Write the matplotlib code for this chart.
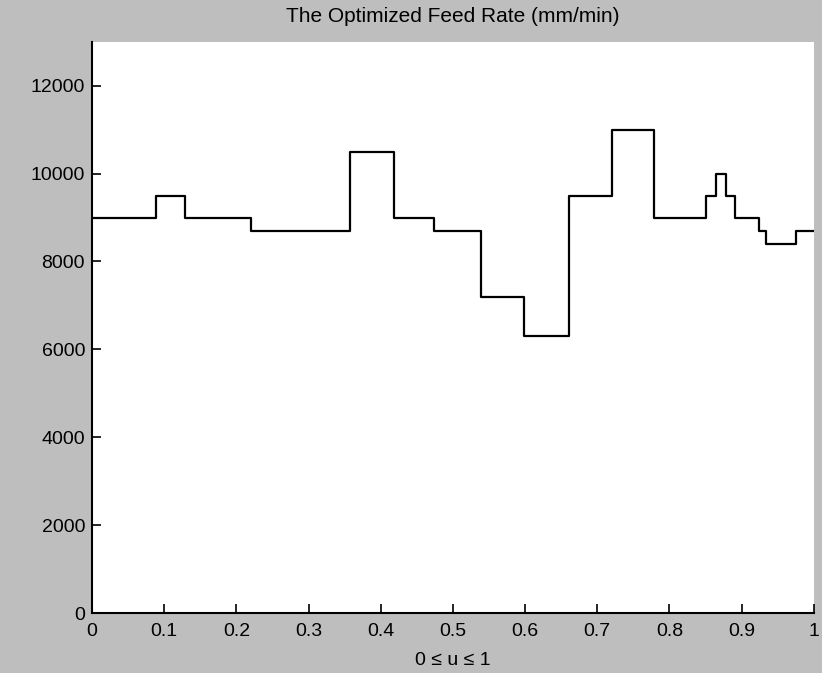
# Optimized feed rate along the curve parameter u (step profile)

import numpy as np
import matplotlib.pyplot as plt

# Breakpoints in u and the feed rate held on each interval
u_edges = [0, 0.089, 0.129, 0.220, 0.358, 0.418, 0.474, 0.539, 0.598, 0.661,
           0.720, 0.779, 0.850, 0.864, 0.878, 0.891, 0.924, 0.934, 0.976, 1.0]
feed_levels = [9000, 9500, 9000, 8700, 10500, 9000, 8700, 7200, 6300, 9500,
               11000, 9000, 9500, 10000, 9500, 9000, 8700, 8400, 8700]

x_ticks = [0, 0.1, 0.2, 0.3, 0.4, 0.5, 0.6, 0.7, 0.8, 0.9, 1]
x_tick_labels = ['0', '0.1', '0.2', '0.3', '0.4', '0.5', '0.6', '0.7', '0.8', '0.9', '1']
y_ticks = [0, 2000, 4000, 6000, 8000, 10000, 12000]

plt.rcParams['font.family'] = ['Liberation Sans', 'DejaVu Sans']

fig = plt.figure(figsize=(8.22, 6.73), dpi=100, facecolor='#bebebe')
ax = fig.add_axes([0.112, 0.089, 0.878, 0.849])
ax.set_facecolor('white')

# step plot, repeat last level so the final interval is drawn
ax.step(u_edges, feed_levels + [feed_levels[-1]], where='post', color='black', linewidth=1.6)

ax.set_xlim(0, 1)
ax.set_ylim(0, 13000)
ax.set_xticks(x_ticks)
ax.set_xticklabels(x_tick_labels)
ax.set_yticks(y_ticks)

ax.tick_params(direction='in', length=6.5, width=1.2, labelsize=14)
ax.tick_params(axis='x', pad=7)
ax.tick_params(axis='y', pad=5)

# MATLAB-style "box off": only left and bottom axes
ax.spines['top'].set_visible(False)
ax.spines['right'].set_visible(False)
ax.spines['left'].set_linewidth(1.5)
ax.spines['bottom'].set_linewidth(1.5)

ax.set_title('The Optimized Feed Rate (mm/min)', fontsize=15, pad=14)
ax.set_xlabel('0 \u2264 u \u2264 1', fontsize=14, labelpad=9)

plt.savefig('out.png', dpi=100, facecolor=fig.get_facecolor())
